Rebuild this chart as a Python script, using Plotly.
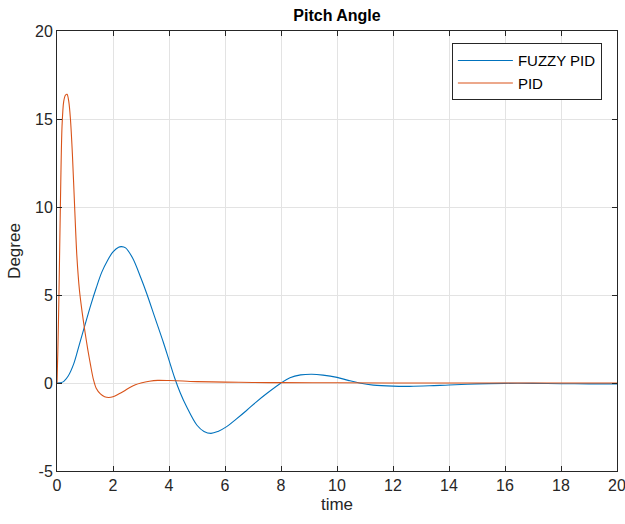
import plotly.graph_objects as go

# Pitch angle response, FUZZY PID controller
t_fuzzy = [0, 0.2, 0.4, 0.6, 0.8, 1.0, 1.2, 1.4, 1.6, 1.8, 2.0, 2.2, 2.3, 2.45, 2.7,
           3.0, 3.2, 3.5, 3.8, 4.0, 4.2, 4.4, 4.63, 5.0, 5.25, 5.5, 5.75, 6.06, 6.4,
           6.77, 7.1, 7.49, 8.0, 8.32, 8.7, 9.1, 9.5, 10.0, 10.4, 10.8, 11.3, 12.0,
           12.6, 13.3, 14.0, 15.0, 16.0, 17.0, 18.0, 19.0, 20.0]
y_fuzzy = [0, 0.05, 0.4, 1.1, 2.2, 3.3, 4.4, 5.4, 6.3, 6.95, 7.45, 7.72, 7.75, 7.68, 7.1,
           5.95, 5.1, 3.7, 2.3, 1.3, 0.3, -0.55, -1.35, -2.4, -2.75, -2.86, -2.75, -2.48, -2.05,
           -1.56, -1.1, -0.6, 0.0, 0.3, 0.46, 0.5, 0.45, 0.32, 0.15, 0.0, -0.12, -0.18,
           -0.19, -0.16, -0.11, -0.05, -0.02, -0.02, -0.04, -0.05, -0.05]

# Pitch angle response, conventional PID controller
t_pid = [0, 0.03, 0.07, 0.12, 0.18, 0.24, 0.30, 0.36, 0.42, 0.48, 0.55, 0.63, 0.71, 0.8,
         0.9, 1.0, 1.1, 1.2, 1.3, 1.4, 1.55, 1.7, 1.85, 2.0, 2.2, 2.4, 2.6, 2.8, 3.0,
         3.3, 3.6, 4.0, 4.5, 5.0, 6.0, 7.0, 8.0, 10.0, 13.0, 20.0]
y_pid = [0, 1.8, 5.0, 10.0, 14.6, 16.0, 16.35, 16.4, 16.0, 15.0, 13.0, 10.0, 7.2, 5.3,
         4.0, 2.9, 1.9, 1.0, 0.2, -0.3, -0.62, -0.78, -0.82, -0.78, -0.63, -0.45, -0.25, -0.1, 0.0,
         0.1, 0.15, 0.14, 0.11, 0.08, 0.05, 0.03, 0.02, 0.01, 0.0, 0.0]

x_ticks = list(range(0, 21, 2))
y_ticks = [-5, 0, 5, 10, 15, 20]

FONT = "Liberation Sans, Arial, sans-serif"
AXIS_COLOR = "#262626"
GRID_COLOR = "#e3e3e3"

fig = go.Figure()
fig.add_trace(go.Scatter(x=t_fuzzy, y=y_fuzzy, mode="lines", name="FUZZY PID",
                         line=dict(color="#0072BD", width=1.1, shape="spline", smoothing=1.0)))
fig.add_trace(go.Scatter(x=t_pid, y=y_pid, mode="lines", name="PID",
                         line=dict(color="#D95319", width=1.1, shape="spline", smoothing=0.8)))

axis_common = dict(
    showline=True, linecolor=AXIS_COLOR, linewidth=1, mirror="ticks",
    ticks="inside", ticklen=5, tickcolor=AXIS_COLOR, tickwidth=1,
    showgrid=True, gridcolor=GRID_COLOR, gridwidth=1, zeroline=False,
    tickfont=dict(family=FONT, size=16, color=AXIS_COLOR),
    ticklabeloverflow="allow", automargin=False,
)

fig.update_xaxes(range=[0, 20], tickvals=x_ticks, ticktext=[str(v) for v in x_ticks],
                 title=dict(text="time", font=dict(family=FONT, size=17, color=AXIS_COLOR),
                            standoff=4),
                 **axis_common)
fig.update_yaxes(range=[-5, 20], tickvals=y_ticks, ticktext=[str(v) for v in y_ticks],
                 title=dict(text="Degree", font=dict(family=FONT, size=17, color=AXIS_COLOR),
                            standoff=10),
                 **axis_common)

fig.update_layout(
    width=625, height=524,
    margin=dict(l=57, r=8, t=31, b=53, autoexpand=False),
    paper_bgcolor="white", plot_bgcolor="white",
    title=dict(text="<b>Pitch Angle</b>", x=(57 + 617) / 2 / 625, xanchor="center",
               y=1 - 15 / 524, yanchor="middle",
               font=dict(family=FONT, size=16, color="black")),
    legend=dict(x=0.973, y=0.972, xanchor="right", yanchor="top",
                bgcolor="white", bordercolor=AXIS_COLOR, borderwidth=1,
                font=dict(family=FONT, size=15, color="black"),
                tracegroupgap=0, itemwidth=55),
    showlegend=True,
)

fig.write_html("out.html")
